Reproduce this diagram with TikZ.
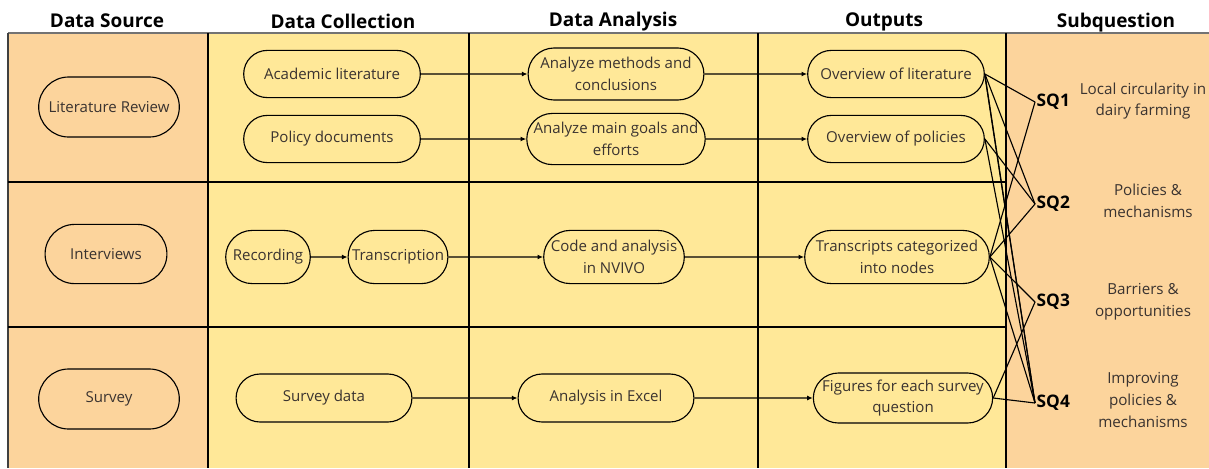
\documentclass[tikz,border=0pt]{standalone}
\usepackage{fontspec}
\setmainfont{Open Sans}
\usetikzlibrary{shapes.misc,arrows.meta}
\definecolor{srcorange}{HTML}{FCD49C}
\definecolor{colyellow}{HTML}{FFE898}
\definecolor{txtgray}{HTML}{3A3330}
\begin{document}
\begin{tikzpicture}[x=0.025cm,y=-0.025cm,
    pill/.style={draw,line width=0.8pt,rounded rectangle,inner xsep=0.5pt,inner ysep=1pt,
        align=center,text=txtgray,font=\fontsize{10.7}{15.5}\selectfont},
    hdr/.style={font=\fontsize{13.5}{16}\selectfont\bfseries},
    sqlbl/.style={font=\fontsize{12.3}{14}\selectfont\bfseries,anchor=west,inner sep=1pt},
    sqtxt/.style={align=center,text=txtgray,font=\fontsize{10.8}{15.3}\selectfont},
    flow/.style={-{Latex[length=4pt,width=3.5pt]},line width=0.8pt},
    link/.style={line width=0.8pt}]
    % Backgrounds of the columns
    \fill[srcorange] (8,33) rectangle (208,468);
    \fill[colyellow] (208,33) rectangle (1006,468);
    \fill[srcorange] (1006,33) rectangle (1209,468);
    \useasboundingbox (0,0) rectangle (1209,468);

    % Grid lines
    \draw[line width=0.8pt,black!55] (8,33) -- (1209,33);
    \draw[line width=0.8pt,black!75] (8,33) -- (8,468);
    \foreach \x in {208,469,758,1006}
        \draw[line width=0.8pt] (\x,33) -- (\x,468);
    \draw[line width=0.8pt] (8,182) -- (1006,182); % row 1
    \draw[line width=0.8pt] (8,327) -- (1006,327); % row 2

    % Headers
    \node[hdr] (hsrc) at (107,21) {Data Source};
    \node[hdr] (hcol) at (343,21) {Data Collection};
    \node[hdr] (hana) at (613,22) {Data Analysis};
    \node[hdr] (hout) at (884,22) {Outputs};
    \node[hdr] (hsub) at (1116,23) {Subquestion};

    % Data sources
    \node[pill,minimum width=3.55cm,minimum height=1.5cm] (litrev) at (109,107) {Literature Review};
    \node[pill,minimum width=3.08cm,minimum height=1.48cm] (interv) at (106,254) {Interviews};
    \node[pill,minimum width=3.55cm,minimum height=1.5cm] (survey) at (109,399) {Survey};

    % Data collection
    \node[pill,minimum width=4.45cm,minimum height=1.18cm] (acad) at (332,74) {Academic literature};
    \node[pill,minimum width=4.45cm,minimum height=1.18cm] (poldoc) at (332,139) {Policy documents};
    \node[pill,minimum width=2.15cm,minimum height=1.33cm] (rec) at (268,257) {Recording};
    \node[pill,minimum width=2.53cm,minimum height=1.33cm] (transc) at (398,257) {Transcription};
    \node[pill,minimum width=4.43cm,minimum height=1.2cm] (survdat) at (324,398) {Survey data};

    % Data analysis
    \node[pill,minimum width=4.43cm,minimum height=1.3cm] (anmeth) at (616,74) {Analyze methods and\\conclusions};
    \node[pill,minimum width=4.43cm,minimum height=1.28cm] (angoal) at (616,139) {Analyze main goals and\\efforts};
    \node[pill,minimum width=3.55cm,minimum height=1.33cm] (nvivo) at (614,257) {Code and analysis\\in NVIVO};
    \node[pill,minimum width=4.43cm,minimum height=1.2cm] (excel) at (606,398) {Analysis in Excel};

    % Outputs
    \node[pill,minimum width=4.45cm,minimum height=1.18cm] (ovlit) at (896,74) {Overview of literature};
    \node[pill,minimum width=4.45cm,minimum height=1.18cm] (ovpol) at (896,139) {Overview of policies};
    \node[pill,minimum width=4.65cm,minimum height=1.33cm] (trcat) at (897,257) {Transcripts categorized\\into nodes};
    \node[pill,minimum width=4.45cm,minimum height=1.25cm] (figs) at (903,398) {Figures for each survey\\question};

    % Subquestions
    \node[sqlbl] (sq1) at (1035,102) {SQ1};
    \node[sqlbl] (sq2) at (1035,204) {SQ2};
    \node[sqlbl] (sq3) at (1035,302) {SQ3};
    \node[sqlbl] (sq4) at (1035,403) {SQ4};
    \node[sqtxt] (sq1txt) at (1143,101) {Local circularity in\\dairy farming};
    \node[sqtxt] (sq2txt) at (1148,201) {Policies \&\\mechanisms};
    \node[sqtxt] (sq3txt) at (1143,302) {Barriers \&\\opportunities};
    \node[sqtxt] (sq4txt) at (1143,400) {Improving\\policies \&\\mechanisms};

    % Flow arrows
    \draw[flow] (acad) -- (anmeth);
    \draw[flow] (anmeth) -- (ovlit);
    \draw[flow] (poldoc) -- (angoal);
    \draw[flow] (angoal) -- (ovpol);
    \draw[flow] (rec) -- (transc);
    \draw[flow] (transc) -- (nvivo);
    \draw[flow] (nvivo) -- (trcat);
    \draw[flow] (survdat) -- (excel);
    \draw[flow] (excel) -- (figs);

    % Links from outputs to subquestions
    \draw[link] (ovlit.east) -- (sq1.west);
    \draw[link] (ovlit.east) -- (sq2.west);
    \draw[link] (ovlit.east) -- (sq4.west);
    \draw[link] ([yshift=-1.5pt]ovlit.east) -- (sq4.west);
    \draw[link] (ovpol.east) -- (sq2.west);
    \draw[link] (ovpol.east) -- (sq4.west);
    \draw[link] (trcat.east) -- (sq1.west);
    \draw[link] (trcat.east) -- (sq2.west);
    \draw[link] (trcat.east) -- (sq3.west);
    \draw[link] (trcat.east) -- (sq4.west);
    \draw[link] (figs.east) -- (sq3.west);
    \draw[link] (figs.east) -- (sq4.west);
\end{tikzpicture}
\end{document}
